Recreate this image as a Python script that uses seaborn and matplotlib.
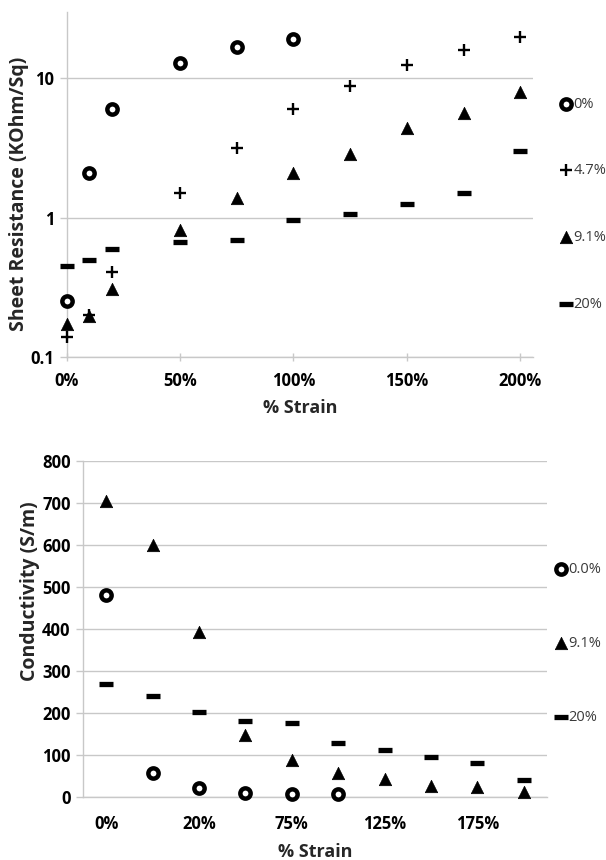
import numpy as np
import pandas as pd
import seaborn as sns
import matplotlib.pyplot as plt
from matplotlib.ticker import FixedLocator, FixedFormatter, NullLocator

# strain values (%) for the sheet resistance plot
strain = [0, 10, 20, 50, 75, 100, 125, 150, 175, 200]

# sheet resistance (KOhm/Sq), one list per filler content
res_0 = [0.25, 2.1, 6.0, 12.9, 16.7, 19.3]
res_4_7 = [0.14, 0.2, 0.41, 1.5, 3.16, 6.0, 8.9, 12.4, 15.9, 19.9]
res_9_1 = [0.171, 0.196, 0.305, 0.81, 1.38, 2.09, 2.87, 4.4, 5.64, 8.06]
res_20 = [0.45, 0.50, 0.60, 0.67, 0.69, 0.96, 1.06, 1.25, 1.51, 3.02]

# conductivity (S/m) on a category axis
strain_cat = ['0%', '10%', '20%', '50%', '75%', '100%', '125%', '150%', '175%', '200%']
cond_0 = [480, 58, 21, 9, 8, 7]
cond_9_1 = [705, 600, 392, 148, 88, 57, 43, 26, 23, 13]
cond_20 = [268, 240, 203, 182, 177, 128, 112, 96, 80, 40]

sns.set_theme(style='white')
plt.rcParams['font.family'] = ['Open Sans', 'DejaVu Sans']

grid_c = '#c8c8c8'
txt_c = '#3a3a3a'

fig = plt.figure(figsize=(6.06, 8.6), dpi=100)
ax1 = fig.add_axes([0.110, 0.585, 0.7695, 0.401])
ax2 = fig.add_axes([0.137, 0.0733, 0.7657, 0.3907])

ring = dict(marker='o', s=55, color='black', facecolor='white', edgecolor='black', linewidth=3.2)
plus = dict(marker='+', s=85, color='black', linewidth=1.7)
tri = dict(marker='^', s=80, color='black', edgecolor='black', linewidth=0.5)
dash = dict(marker='_', s=110, color='black', linewidth=3.8)

# --- top: sheet resistance, log scale ---
sns.scatterplot(x=strain[:len(res_0)], y=res_0, ax=ax1, label='0%', clip_on=False, zorder=3, **ring)
sns.scatterplot(x=strain, y=res_4_7, ax=ax1, label='4.7%', clip_on=False, zorder=3, **plus)
sns.scatterplot(x=strain, y=res_9_1, ax=ax1, label='9.1%', clip_on=False, zorder=3, **tri)
sns.scatterplot(x=strain, y=res_20, ax=ax1, label='20%', clip_on=False, zorder=3, **dash)

ax1.set_yscale('log')
ax1.set_ylim(0.1, 30)
ax1.set_xlim(0, 205.6)
ax1.yaxis.set_major_locator(FixedLocator([0.1, 1, 10]))
ax1.yaxis.set_major_formatter(FixedFormatter(['0.1', '1', '10']))
ax1.yaxis.set_minor_locator(NullLocator())
ax1.set_xticks([0, 50, 100, 150, 200])
ax1.set_xticklabels(['0%', '50%', '100%', '150%', '200%'])
ax1.set_xlabel('% Strain', fontsize=13, fontweight='bold', labelpad=6)
ax1.set_ylabel('Sheet Resistance (KOhm/Sq)', fontsize=14, fontweight='bold')
ax1.yaxis.set_label_coords(-0.081, 0.474)

# --- bottom: conductivity, category axis ---
sns.scatterplot(x=strain_cat[:len(cond_0)], y=cond_0, ax=ax2, label='0.0%', clip_on=False, zorder=3, **ring)
sns.scatterplot(x=strain_cat, y=cond_9_1, ax=ax2, label='9.1%', clip_on=False, zorder=3, **tri)
sns.scatterplot(x=strain_cat, y=cond_20, ax=ax2, label='20%', clip_on=False, zorder=3, **dash)

ax2.set_ylim(0, 800)
ax2.set_xlim(-0.5, 9.5)
ax2.set_yticks(range(0, 801, 100))
ax2.set_xticks([0, 2, 4, 6, 8])
ax2.set_xticklabels([strain_cat[i] for i in [0, 2, 4, 6, 8]])
ax2.set_xticks(np.arange(-0.5, 10, 1), minor=True)
ax2.tick_params(axis='x', which='major', length=0, pad=13)
ax2.tick_params(axis='x', which='minor', length=5, width=1, color=grid_c, direction='out')
ax2.set_xlabel('% Strain', fontsize=13, fontweight='bold', labelpad=7)
ax2.set_ylabel('Conductivity (S/m)', fontsize=14, fontweight='bold')
ax2.yaxis.set_label_coords(-0.093, 0.613)

for ax in (ax1, ax2):
    ax.grid(axis='y', color=grid_c, linewidth=1)
    ax.set_axisbelow(True)
    for side in ('top', 'right'):
        ax.spines[side].set_visible(False)
    for side in ('left', 'bottom'):
        ax.spines[side].set_color(grid_c)
        ax.spines[side].set_linewidth(1)
    ax.tick_params(axis='y', length=5, width=1, color=grid_c, left=True, pad=4)
    for lab in ax.get_xticklabels() + ax.get_yticklabels():
        lab.set_fontweight('bold')
        lab.set_fontsize(12)
        lab.set_color('black')

ax1.tick_params(axis='x', length=6, width=1, color=grid_c, bottom=True, direction='inout', pad=8)

# legends outside on the right, Excel style
leg1 = ax1.legend(loc='upper left', bbox_to_anchor=(1.055, 0.755), frameon=False,
                  labelspacing=3.55, handletextpad=0.0, handlelength=1.0,
                  fontsize=10.5, scatterpoints=1, borderaxespad=0, borderpad=0)
leg2 = ax2.legend(loc='upper left', bbox_to_anchor=(1.015, 0.70), frameon=False,
                  labelspacing=4.05, handletextpad=0.0, handlelength=1.0,
                  fontsize=10.5, scatterpoints=1, borderaxespad=0, borderpad=0)
for leg in (leg1, leg2):
    for t in leg.get_texts():
        t.set_color(txt_c)

fig.savefig('out.png', dpi=100)
